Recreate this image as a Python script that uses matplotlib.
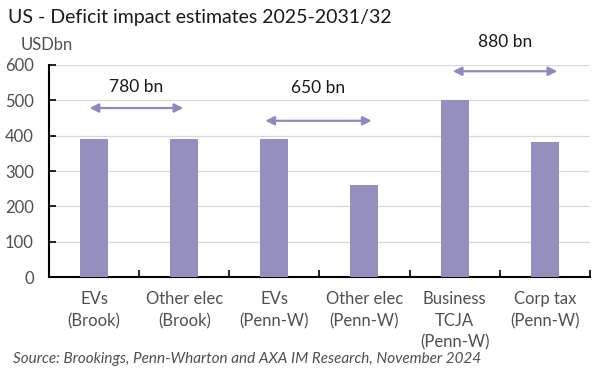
import matplotlib
matplotlib.use("Agg")
import matplotlib.pyplot as plt
import numpy as np

categories = ["EVs\n(Brook)", "Other elec\n(Brook)", "EVs\n(Penn-W)", "Other elec\n(Penn-W)",
              "Business\nTCJA\n(Penn-W)", "Corp tax\n(Penn-W)"]
values = [390, 390, 390, 260, 500, 383]
yticks = [0, 100, 200, 300, 400, 500, 600]
arrow_labels = ["780 bn", "650 bn", "880 bn"]
arrow_spans = [(-0.05, 0.99), (1.9, 3.08), (3.98, 5.14)]
arrow_y = [478, 442, 582]
label_y = [538, 535, 665]

plt.rcParams['font.family'] = ['Lato', 'DejaVu Sans']

fig = plt.figure(figsize=(6.08, 3.75), dpi=100)
ax = fig.add_axes([0.0806, 0.261, 0.8894, 0.566])

bar_color = "#9490BD"
x = np.arange(len(categories))
ax.bar(x, values, width=0.31, color=bar_color, zorder=3)

ax.set_xlim(-0.5, len(categories) - 0.5)
ax.set_ylim(0, 600)
ax.set_yticks(yticks)
ax.set_yticklabels([str(v) for v in yticks], fontsize=12, color="#505050")
ax.yaxis.grid(True, color="#d9d9d9", linewidth=0.9, zorder=0)
ax.set_axisbelow(True)

ax.set_xticks(x)
ax.set_xticklabels(categories, fontsize=12, color="#505050", linespacing=1.45)
ax.tick_params(axis='x', length=0, pad=10)
ax.set_xticks(np.arange(-0.5, len(categories)), minor=True)
ax.tick_params(axis='x', which='minor', direction='in', length=5, width=1.2, color='black')
ax.tick_params(axis='y', direction='in', length=5, width=1.2, color='black', pad=11)

for s in ['top', 'right']:
    ax.spines[s].set_visible(False)
for s in ['left', 'bottom']:
    ax.spines[s].set_linewidth(1.5)
    ax.spines[s].set_color('black')

arrow_color = "#8E8ABF"
for lab, (x0, x1), ya, yl in zip(arrow_labels, arrow_spans, arrow_y, label_y):
    ax.annotate("", xy=(x0, ya), xytext=(x1, ya),
                arrowprops=dict(arrowstyle="<|-|>", color=arrow_color, lw=1.6,
                                mutation_scale=13, shrinkA=0, shrinkB=0),
                annotation_clip=False)
    ax.text((x0 + x1) / 2, yl, lab, ha='center', va='center', fontsize=12.5,
            color="#1a1a1a", clip_on=False)

fig.text(8 / 608, 1 - 18 / 375, "US - Deficit impact estimates 2025-2031/32", fontsize=14,
         ha='left', va='center', color="#1a1a1a")
fig.text(21 / 608, 1 - 45 / 375, "USDbn", fontsize=12, ha='left', va='center', color="#505050")
fig.text(13 / 608, 1 - 359 / 375,
         "Source: Brookings, Penn-Wharton and AXA IM Research, November 2024",
         fontsize=11, style='italic', ha='left', va='center', color="#505050")

fig.savefig("out.png", dpi=100)
